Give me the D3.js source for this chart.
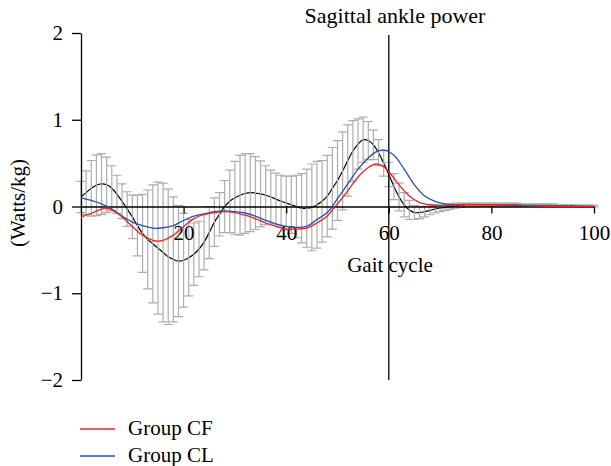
<!DOCTYPE html>
<html>
<head>
<meta charset="utf-8">
<script src="https://cdn.jsdelivr.net/npm/d3@7"></script>
<style>
  body { margin: 0; background: #fff; }
  text { font-family: "Liberation Serif", "DejaVu Serif", serif; fill: #000; }
</style>
</head>
<body>
<div id="chart"></div>
<script>
// gait cycle (%) for the normal group mean +/- SD
const gaitPct = d3.range(0, 101);

const normalMean = [
  0.11, 0.16, 0.21, 0.245, 0.26, 0.25, 0.21, 0.14, 0.06, -0.03,
  -0.12, -0.22, -0.31, -0.38, -0.43, -0.48, -0.53, -0.58, -0.61, -0.63,
  -0.62, -0.59, -0.55, -0.49, -0.41, -0.30, -0.18, -0.09, 0.0, 0.06,
  0.10, 0.13, 0.15, 0.16, 0.155, 0.145, 0.13, 0.11, 0.085, 0.06,
  0.04, 0.02, 0.0, -0.02, -0.02, -0.01, 0.02, 0.06, 0.12, 0.21,
  0.30, 0.41, 0.53, 0.64, 0.72, 0.77, 0.76, 0.71, 0.62, 0.50,
  0.37, 0.23, 0.11, 0.02, -0.04, -0.07, -0.07, -0.06, -0.045, -0.03,
  -0.02, -0.01, 0.0, 0.01, 0.015, 0.02, 0.02, 0.02, 0.02, 0.02,
  0.02, 0.02, 0.02, 0.02, 0.02, 0.02, 0.015, 0.015, 0.015, 0.015,
  0.015, 0.015, 0.015, 0.01, 0.01, 0.01, 0.01, 0.005, 0.005, 0.005,
  0.005
];

const normalSD = [
  0.18, 0.25, 0.32, 0.35, 0.35, 0.32, 0.26, 0.22, 0.20, 0.20,
  0.25, 0.35, 0.45, 0.57, 0.68, 0.76, 0.80, 0.78, 0.72, 0.64,
  0.54, 0.44, 0.36, 0.32, 0.32, 0.30, 0.28, 0.25, 0.30, 0.36,
  0.42, 0.46, 0.46, 0.45, 0.42, 0.38, 0.34, 0.31, 0.30, 0.30,
  0.31, 0.33, 0.36, 0.40, 0.45, 0.50, 0.50, 0.47, 0.47, 0.47,
  0.46, 0.45, 0.41, 0.35, 0.29, 0.26, 0.22, 0.17, 0.15, 0.15,
  0.14, 0.15, 0.16, 0.14, 0.11, 0.08, 0.07, 0.06, 0.05, 0.045,
  0.04, 0.035, 0.03, 0.03, 0.025, 0.02, 0.02, 0.02, 0.02, 0.02,
  0.02, 0.02, 0.02, 0.02, 0.02, 0.02, 0.015, 0.015, 0.015, 0.015,
  0.015, 0.015, 0.015, 0.01, 0.01, 0.01, 0.01, 0.01, 0.01, 0.01,
  0.01
];

// Group CF (red)
const cfPct = [0, 2, 4, 5, 6, 8, 10, 12, 14, 15, 16, 18, 20, 22, 24, 26, 28, 30, 32, 34, 36, 38, 40, 42, 44, 46, 48, 49, 50, 52, 54, 56, 57.5, 59, 60, 62, 64, 66, 68, 70, 75, 80, 85, 90, 100];
const cfPower = [-0.12, -0.08, -0.03, -0.02, -0.04, -0.12, -0.23, -0.33, -0.39, -0.40, -0.39, -0.33, -0.23, -0.14, -0.09, -0.07, -0.06, -0.07, -0.10, -0.14, -0.19, -0.23, -0.26, -0.26, -0.25, -0.19, -0.11, -0.04, 0.03, 0.18, 0.34, 0.45, 0.49, 0.46, 0.40, 0.25, 0.12, 0.045, 0.02, 0.01, 0.025, 0.02, 0.015, 0.005, 0.0];

// Group CL (blue)
const clPct = [0, 2, 4, 6, 8, 10, 12, 14, 16, 18, 20, 22, 24, 26, 28, 30, 32, 34, 36, 38, 40, 42, 44, 46, 48, 50, 52, 54, 56, 57.5, 59, 61, 63, 65, 67, 69, 71, 75, 80, 90, 100];
const clPower = [0.10, 0.07, 0.03, -0.03, -0.11, -0.18, -0.22, -0.25, -0.245, -0.22, -0.16, -0.11, -0.085, -0.06, -0.05, -0.06, -0.075, -0.11, -0.16, -0.20, -0.23, -0.24, -0.23, -0.15, -0.07, 0.09, 0.26, 0.43, 0.56, 0.63, 0.65, 0.59, 0.43, 0.25, 0.12, 0.06, 0.03, 0.02, 0.02, 0.01, 0.0];

const yTicks = [-2, -1, 0, 1, 2];
const xTicks = [20, 40, 60, 80, 100];
const legendItems = ["Group CF", "Group CL"];
const legendColors = ["#e8262b", "#2b4fae"];

const width = 611, height = 466;

const svg = d3.select("#chart").append("svg")
  .attr("width", width)
  .attr("height", height);

const x = d3.scaleLinear().domain([0, 100]).range([81, 594]);
const y = d3.scaleLinear().domain([-2, 2]).range([380, 33]);

// black mean line (drawn under the error bars)
const normalData = gaitPct.map((p, i) => ({ p: p, m: normalMean[i], sd: normalSD[i] }));

const line = d3.line()
  .x(d => x(d.p))
  .y(d => y(d.v))
  .curve(d3.curveCatmullRom.alpha(0.5));

svg.append("path")
  .datum(normalData.map(d => ({ p: d.p, v: d.m })))
  .attr("fill", "none")
  .attr("stroke", "#000")
  .attr("stroke-width", 1.2)
  .attr("d", line);

// error bars
const capW = 4.5;
const bars = svg.append("g")
  .attr("stroke", "#adadad")
  .attr("stroke-width", 1.2)
  .attr("fill", "none");

bars.selectAll(".eb")
  .data(normalData)
  .enter().append("path")
  .attr("class", "eb")
  .attr("d", d => {
    const xp = x(d.p), yt = y(d.m + d.sd), yb = y(d.m - d.sd);
    return `M${xp - capW},${yt}H${xp + capW}M${xp},${yt}V${yb}M${xp - capW},${yb}H${xp + capW}`;
  });

// axes
const yAxis = d3.axisLeft(y)
  .tickValues(yTicks)
  .tickFormat(d3.format("d"))
  .tickSize(9)
  .tickSizeOuter(0)
  .tickPadding(9);

const gy = svg.append("g")
  .attr("transform", `translate(${x(0)},0)`)
  .call(yAxis);

const xAxis = d3.axisBottom(x)
  .tickValues(xTicks)
  .tickSize(7)
  .tickSizeOuter(0)
  .tickPadding(12);

const gx = svg.append("g")
  .attr("transform", `translate(0,${y(0)})`)
  .call(xAxis);

[gx, gy].forEach(g => {
  g.select(".domain").attr("stroke", "#000").attr("stroke-width", 1.3);
  g.selectAll(".tick line").attr("stroke", "#000").attr("stroke-width", 1.3);
  g.selectAll(".tick text")
    .style("font-family", '"Liberation Serif", serif')
    .style("font-size", "21px")
    .attr("fill", "#000");
});

// vertical marker at 60%
svg.append("line")
  .attr("x1", x(60)).attr("x2", x(60))
  .attr("y1", 35).attr("y2", y(-2))
  .attr("stroke", "#000")
  .attr("stroke-width", 1.3);

// group lines
svg.append("path")
  .datum(clPct.map((p, i) => ({ p: p, v: clPower[i] })))
  .attr("fill", "none")
  .attr("stroke", legendColors[1])
  .attr("stroke-width", 1.3)
  .attr("d", line);

svg.append("path")
  .datum(cfPct.map((p, i) => ({ p: p, v: cfPower[i] })))
  .attr("fill", "none")
  .attr("stroke", legendColors[0])
  .attr("stroke-width", 1.3)
  .attr("d", line);

// titles
svg.append("text")
  .attr("x", 395).attr("y", 23)
  .attr("text-anchor", "middle")
  .style("font-size", "22px")
  .text("Sagittal ankle power");

svg.append("text")
  .attr("x", 390).attr("y", 272)
  .attr("text-anchor", "middle")
  .style("font-size", "21px")
  .text("Gait cycle");

svg.append("text")
  .attr("transform", "translate(25,203) rotate(-90)")
  .attr("text-anchor", "middle")
  .style("font-size", "21px")
  .text("(Watts/kg)");

// legend
const legend = svg.append("g");
legendItems.forEach((name, i) => {
  const ly = 429 + i * 27;
  legend.append("line")
    .attr("x1", 80).attr("x2", 115)
    .attr("y1", ly).attr("y2", ly)
    .attr("stroke", legendColors[i])
    .attr("stroke-width", 1.3);
  legend.append("text")
    .attr("x", 128).attr("y", ly + 6)
    .style("font-size", "21px")
    .text(name);
});
</script>
</body>
</html>
